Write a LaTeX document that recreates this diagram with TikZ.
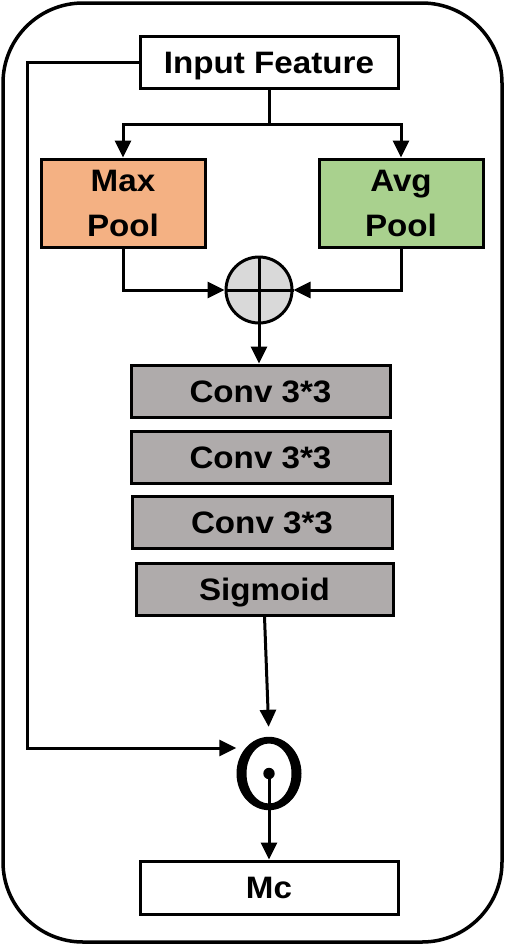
\documentclass[tikz,border=0pt]{standalone}
\usepackage{fontspec}
\setmainfont[FakeStretch=1.07]{Liberation Sans}
\usetikzlibrary{arrows.meta,calc,shapes.geometric}
\definecolor{maxc}{HTML}{F4B183}
\definecolor{avgc}{HTML}{A9D18E}
\definecolor{convc}{HTML}{AFABAB}
\definecolor{plusc}{HTML}{D9D9D9}
\begin{document}
\begin{tikzpicture}[x=1pt,y=-1pt,
  box/.style={draw, line width=3pt, inner sep=0pt, align=center,
    text height=22pt, text depth=0pt,
    font=\fontsize{31}{45}\selectfont\bfseries},
  box2/.style={box, text height=67pt},
  arr/.style={line width=3pt, -{Triangle[length=17pt,width=16pt]}},
  ln/.style={line width=3pt}]
\useasboundingbox (0,0) rectangle (505,945);
\draw[line width=3.5pt, rounded corners=80pt] (3,3) rectangle (502,942);
\node[box, minimum width=258pt, minimum height=52pt] (inp) at (269,62) {Input Feature};
\node[box2, fill=maxc, minimum width=164pt, minimum height=88pt] (maxp) at (123,203) {Max\\Pool};
\node[box2, fill=avgc, minimum width=164pt, minimum height=88pt] (avgp) at (401,203) {Avg\\Pool};
\node[draw, circle, line width=3pt, fill=plusc, minimum size=66pt, inner sep=0pt] (plus) at (259,290) {};
\draw[ln] (plus.north) -- (plus.south) (plus.west) -- (plus.east);
\node[box, fill=convc, minimum width=259pt, minimum height=52pt] (c1) at (260.5,391) {Conv 3*3};
\node[box, fill=convc, minimum width=259pt, minimum height=52pt] (c2) at (260.5,457) {Conv 3*3};
\node[box, fill=convc, minimum width=260pt, minimum height=52pt] (c3) at (262,522) {Conv 3*3};
\node[box, fill=convc, minimum width=257pt, minimum height=52pt] (sig) at (264.5,589) {Sigmoid};
\node[ellipse, minimum width=65pt, minimum height=73pt, inner sep=0pt] (odot) at (269,773.5) {};
\fill[even odd rule] (odot.center) ellipse [x radius=32.5pt, y radius=36.7pt]
  (odot.center) ellipse [x radius=22.5pt, y radius=30pt];
\fill (odot.center) circle (5.7pt);
\node[box, minimum width=258pt, minimum height=53pt] (mc) at (269,887.5) {Mc};
\coordinate (sp) at (269,124);
\coordinate (lc) at (27,748);
\draw[ln] (inp.south) -- (sp);
\draw[arr] (sp) -| (maxp.north);
\draw[arr] (sp) -| (avgp.north);
\draw[arr] (maxp.south) |- (plus.west);
\draw[arr] (avgp.south) |- (plus.east);
\draw[arr] (plus.south) -- (plus.south |- c1.north);
\draw[arr, shorten >=10pt] (sig.south) -- (odot.north);
\draw[arr] (odot.center) -- (mc.north);
\draw[arr] (inp.west) -| (lc) -- (lc -| odot.west);
\end{tikzpicture}
\end{document}
